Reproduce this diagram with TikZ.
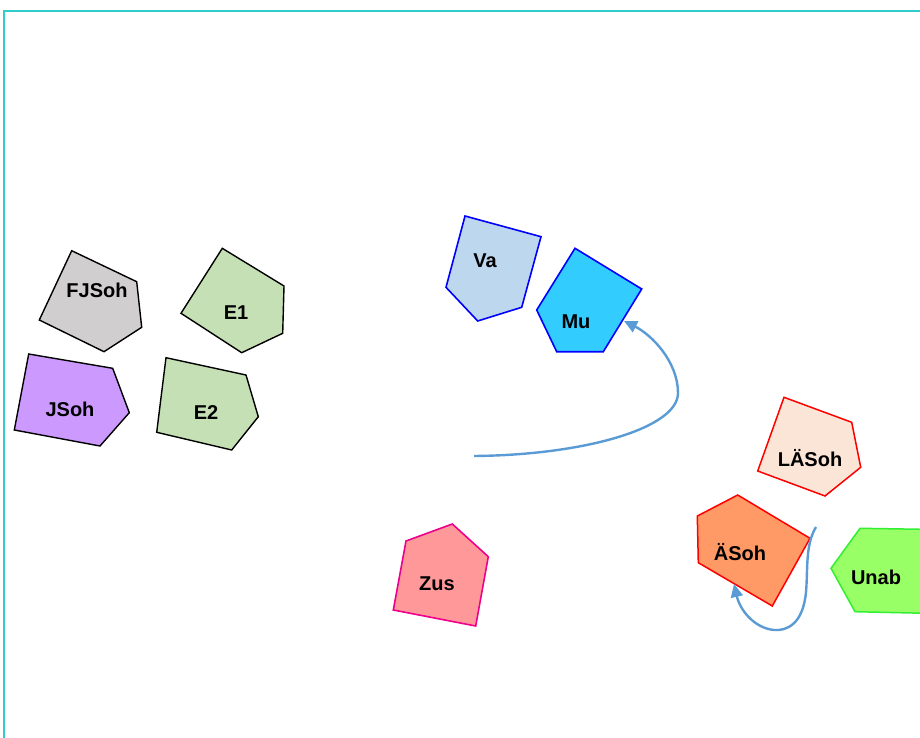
\documentclass[tikz,border=0pt]{standalone}
\usepackage{fontspec}
\setmainfont{Liberation Sans}
\usetikzlibrary{arrows.meta}
\definecolor{framec}{HTML}{33CCCC}
\definecolor{grayf}{HTML}{D0CECE}
\definecolor{purplef}{HTML}{CC99FF}
\definecolor{greenf}{HTML}{C5E0B4}
\definecolor{vaf}{HTML}{BDD7EE}
\definecolor{muf}{HTML}{33CCFF}
\definecolor{lasohf}{HTML}{FBE5D6}
\definecolor{asohf}{HTML}{FF9966}
\definecolor{unabf}{HTML}{99FF66}
\definecolor{unabd}{HTML}{33EE33}
\definecolor{zusf}{HTML}{FF9999}
\definecolor{arrowc}{HTML}{5B9BD5}
\tikzset{
  blackshape/.style={draw=black, line width=1.4pt, line join=miter},
  blueshape/.style={draw=blue, line width=1.6pt, line join=miter},
  redshape/.style={draw=red, line width=1.5pt, line join=miter},
  lbl/.style={font=\fontsize{20}{24}\selectfont\bfseries, text=black, inner sep=0pt},
  conn/.style={draw=arrowc, line width=2.4pt, -{Triangle[length=13pt,width=12pt]}}
}
\begin{document}
\begin{tikzpicture}[x=1pt,y=-1pt]
\useasboundingbox (0,0) rectangle (920,738);
% frame
\draw[framec, line width=2pt] (4,800) -- (4,11) -- (940,11);
% FJSoh
\draw[blackshape, fill=grayf] (71.7,250.7) -- (136.7,281.7) -- (141.7,327.3) -- (104,351.7) -- (39.3,320) -- cycle;
\node[lbl] (fjsoh) at (97,290) {FJSoh};
% E1
\draw[blackshape, fill=greenf] (222.3,248.3) -- (284,286) -- (282.7,333.3) -- (241.7,352.7) -- (181,313.3) -- cycle;
\node[lbl] (e1) at (236,313) {E1};
% JSoh
\draw[blackshape, fill=purplef] (28.7,354) -- (112.7,368.3) -- (129.3,412.7) -- (100,446) -- (14.3,430) -- cycle;
\node[lbl] (jsoh) at (70,409) {JSoh};
% E2
\draw[blackshape, fill=greenf] (166,357.7) -- (246,375) -- (258.3,416.7) -- (231.7,450) -- (156.7,432.3) -- cycle;
\node[lbl] (e2) at (206,413) {E2};
% Va
\draw[blueshape, fill=vaf] (465,216) -- (541,236.7) -- (521.7,307.3) -- (477.7,321) -- (446,287.3) -- cycle;
\node[lbl] (va) at (485,261) {Va};
% Mu
\draw[blueshape, fill=muf] (575,248.3) -- (641.7,289) -- (603.3,351.7) -- (556.7,351.7) -- (536.7,310) -- cycle;
\node[lbl] (mu) at (576,322) {Mu};
% LÄSoh
\draw[redshape, fill=lasohf] (784,397.3) -- (851.7,422.3) -- (860.7,467.3) -- (825,496) -- (757.7,471) -- cycle;
\node[lbl] (lasoh) at (810,458) {LÄSoh};
% ÄSoh
\draw[redshape, fill=asohf] (737.7,495) -- (810,538.3) -- (772.3,606) -- (698.3,562.7) -- (697.3,516) -- cycle;
\node[lbl] (asoh) at (740,552) {ÄSoh};
% Unab
\draw[draw=unabd, line width=1.5pt, fill=unabf] (860,528.3) -- (935,529.5) -- (935,613.5) -- (855,611.7) -- (831,568.3) -- cycle;
\node[lbl] (unab) at (876,577) {Unab};
% Zus
\draw[draw=magenta, line width=1.6pt, fill=zusf] (452.3,524) -- (488.3,556.7) -- (475.7,626) -- (393.3,610) -- (406,541) -- cycle;
\node[lbl] (zus) at (437,584) {Zus};
% connectors
\coordinate (mustart) at (474,456);
\coordinate (mutip) at (624,321);
\coordinate (loopstart) at (816,527);
\coordinate (looptip) at (734,584);
\draw[conn] (mustart) .. controls (585,455) and (678,428) .. (678,393)
  .. controls (678,362) and (652,335) .. (mutip);
\draw[conn] (loopstart) .. controls (805,545) and (808,570) .. (806,592)
  .. controls (803,624) and (787,631) .. (774,630)
  .. controls (754,628) and (740,610) .. (looptip);
\end{tikzpicture}
\end{document}
